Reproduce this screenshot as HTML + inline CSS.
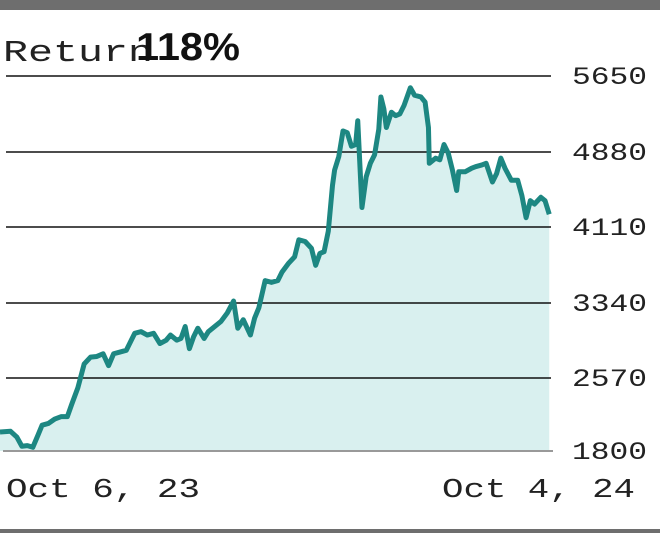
<!DOCTYPE html>
<html><head><meta charset="utf-8"><style>
html,body{margin:0;padding:0;background:#fff;width:660px;height:533px;overflow:hidden}
</style></head><body>
<svg width="660" height="533" viewBox="0 0 660 533" xmlns="http://www.w3.org/2000/svg">
<rect x="0" y="0" width="660" height="10" fill="#6e6e6e"/>
<rect x="0" y="529" width="660" height="4" fill="#6e6e6e"/>
<g transform="scale(0.42088,0.34014)">
<path d="M0,1270 L25,1268 L40,1285 L52,1312 L65,1310 L78,1315 L90,1280 L100,1250 L115,1245 L130,1232 L145,1225 L160,1225 L170,1190 L185,1140 L200,1070 L215,1050 L230,1048 L245,1040 L258,1075 L270,1040 L285,1035 L300,1030 L310,1005 L320,980 L335,975 L350,985 L365,980 L380,1010 L395,1000 L405,985 L420,1000 L430,995 L440,960 L450,1025 L460,990 L470,965 L485,995 L495,975 L510,960 L525,945 L540,920 L555,885 L565,965 L578,940 L595,985 L605,935 L615,905 L630,825 L645,830 L660,825 L670,800 L685,775 L700,755 L710,705 L725,710 L740,730 L750,780 L760,745 L770,740 L780,680 L790,545 L795,500 L805,460 L815,385 L825,390 L835,430 L845,425 L850,355 L860,610 L870,520 L880,480 L890,455 L900,380 L905,285 L912,320 L918,375 L930,330 L940,340 L950,335 L960,310 L975,258 L985,280 L1000,285 L1010,300 L1018,375 L1020,480 L1035,465 L1045,470 L1055,425 L1065,450 L1075,500 L1085,560 L1090,505 L1105,505 L1120,495 L1130,490 L1145,485 L1155,480 L1170,535 L1180,510 L1190,465 L1200,495 L1215,530 L1230,530 L1240,575 L1250,640 L1260,590 L1270,600 L1285,580 L1295,590 L1305,630 L1305,1326 L0,1326 Z" fill="#d9f0ef"/>
</g>
<g stroke="#111" stroke-width="1.5">
<line x1="6" y1="76" x2="551" y2="76"/>
<line x1="6" y1="152" x2="551" y2="152"/>
<line x1="6" y1="227" x2="551" y2="227"/>
<line x1="6" y1="303" x2="551" y2="303"/>
<line x1="6" y1="378" x2="551" y2="378"/>
</g>
<line x1="3" y1="451" x2="553" y2="451" stroke="#999" stroke-width="2"/>
<g transform="scale(0.42088,0.34014)">
<path d="M0,1270 L25,1268 L40,1285 L52,1312 L65,1310 L78,1315 L90,1280 L100,1250 L115,1245 L130,1232 L145,1225 L160,1225 L170,1190 L185,1140 L200,1070 L215,1050 L230,1048 L245,1040 L258,1075 L270,1040 L285,1035 L300,1030 L310,1005 L320,980 L335,975 L350,985 L365,980 L380,1010 L395,1000 L405,985 L420,1000 L430,995 L440,960 L450,1025 L460,990 L470,965 L485,995 L495,975 L510,960 L525,945 L540,920 L555,885 L565,965 L578,940 L595,985 L605,935 L615,905 L630,825 L645,830 L660,825 L670,800 L685,775 L700,755 L710,705 L725,710 L740,730 L750,780 L760,745 L770,740 L780,680 L790,545 L795,500 L805,460 L815,385 L825,390 L835,430 L845,425 L850,355 L860,610 L870,520 L880,480 L890,455 L900,380 L905,285 L912,320 L918,375 L930,330 L940,340 L950,335 L960,310 L975,258 L985,280 L1000,285 L1010,300 L1018,375 L1020,480 L1035,465 L1045,470 L1055,425 L1065,450 L1075,500 L1085,560 L1090,505 L1105,505 L1120,495 L1130,490 L1145,485 L1155,480 L1170,535 L1180,510 L1190,465 L1200,495 L1215,530 L1230,530 L1240,575 L1250,640 L1260,590 L1270,600 L1285,580 L1295,590 L1305,630" fill="none" stroke="#1d8782" stroke-width="5" stroke-linejoin="round" vector-effect="non-scaling-stroke"/>
</g>
<g font-family="Liberation Mono, monospace" fill="#222" font-size="25">
<text x="572" y="84" textLength="75" lengthAdjust="spacingAndGlyphs">5650</text>
<text x="572" y="160" textLength="75" lengthAdjust="spacingAndGlyphs">4880</text>
<text x="572" y="235" textLength="75" lengthAdjust="spacingAndGlyphs">4110</text>
<text x="572" y="311" textLength="75" lengthAdjust="spacingAndGlyphs">3340</text>
<text x="572" y="386" textLength="75" lengthAdjust="spacingAndGlyphs">2570</text>
<text x="572" y="459" textLength="75" lengthAdjust="spacingAndGlyphs">1800</text>
<text x="6" y="497" font-size="27" textLength="194" lengthAdjust="spacingAndGlyphs">Oct 6, 23</text>
<text x="442" y="497" font-size="27" textLength="193" lengthAdjust="spacingAndGlyphs">Oct 4, 24</text>
<text x="3" y="61" font-size="31" textLength="150" lengthAdjust="spacingAndGlyphs">Return</text>
</g>
<text x="136" y="60" font-family="Liberation Sans, sans-serif" font-weight="bold" font-size="39" fill="#111" textLength="104" lengthAdjust="spacingAndGlyphs">118%</text>
</svg>
</body></html>
